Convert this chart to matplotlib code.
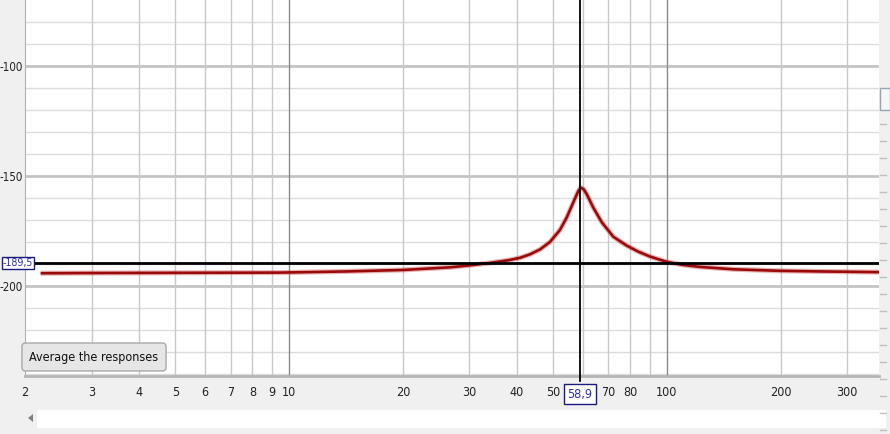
#!/usr/bin/env python

import matplotlib
matplotlib.use("Agg")
import matplotlib.pyplot as plt
from matplotlib.patches import Rectangle, Polygon

# group delay trace (Hz, ms)
freq_hz = [2.2, 3, 5, 9.5, 14, 20, 26.7, 30.1, 34, 38, 40.8, 43.4, 46.1,
           49.0, 52.1, 54.3, 56.5, 58.2, 59.1, 60.2, 61.3, 63.8, 67.2, 72.1,
           78.2, 84.0, 90.2, 99.8, 110, 122, 150, 200, 260, 364]
delay = [-194.2, -194.1, -194.0, -193.9, -193.4, -192.7, -191.5, -190.6,
         -189.5, -188.3, -187.2, -185.6, -183.4, -180.0, -174.5, -168.8,
         -162.0, -157.0, -155.3, -156.0, -158.2, -164.3, -171.0, -177.6,
         -181.6, -184.4, -186.6, -189.0, -190.4, -191.3, -192.4, -193.1,
         -193.4, -193.7]

cursor_x = 58.9
cursor_y = -189.5

x_ticks = [2, 3, 4, 5, 6, 7, 8, 9, 10, 20, 30, 40, 50, 70, 80, 100, 200, 300]
x_minor_grid = [3, 4, 5, 6, 7, 8, 9, 20, 30, 40, 50, 60, 70, 80, 90, 200, 300]
x_major_grid = [10, 100]
y_ticks = [-100, -150, -200]
y_minor_grid = list(range(-240, -70, 10))

W, H = 890, 434
plt.rcParams["font.family"] = ["DejaVu Sans"]
plt.rcParams["font.stretch"] = "condensed"

fig = plt.figure(figsize=(W / 100, H / 100), dpi=100, facecolor="#f0f0f0")
ax = fig.add_axes([25 / W, 58 / H, 854 / W, 376 / H])
ax.set_facecolor("white")
ax.set_xscale("log")
ax.set_xlim(2, 364)
ax.set_ylim(-240.9, -70)

# grid
for v in y_minor_grid:
    if v in y_ticks:
        continue
    ax.axhline(v, color="#dcdcdc", lw=1, zorder=1)
for v in y_ticks:
    ax.axhline(v, color="#c4c4c4", lw=2, zorder=1)
for v in x_minor_grid:
    ax.axvline(v, color="#c8c8c8", lw=1, zorder=1)
for v in x_major_grid:
    ax.axvline(v, color="#8a8a8a", lw=1, zorder=1)

# trace
ax.plot(freq_hz, delay, color="#cc5555", lw=3.6, alpha=0.45, zorder=3,
        solid_capstyle="butt", solid_joinstyle="round")
ax.plot(freq_hz, delay, color="#9b0a0a", lw=1.9, zorder=4,
        solid_capstyle="butt", solid_joinstyle="round")

# cursors
ax.axhline(cursor_y, color="black", lw=2, zorder=5)
ax.axvline(cursor_x, ymin=-0.012, ymax=1, color="black", lw=1.3, zorder=5,
           clip_on=False)

ax.set_xticks(x_ticks)
ax.set_xticklabels([str(t) for t in x_ticks])
ax.xaxis.set_minor_locator(plt.NullLocator())
ax.set_yticks(y_ticks)
ax.set_yticklabels(["-" + str(abs(t)) for t in y_ticks])
ax.tick_params(axis="both", length=0, colors="#222222")
ax.tick_params(axis="x", pad=7, labelsize=9)
ax.tick_params(axis="y", pad=1.5, labelsize=8.3)

for side in ["top", "right"]:
    ax.spines[side].set_visible(False)
ax.spines["left"].set_color("#b0b0b0")
ax.spines["bottom"].set_color("#b4b4b4")
ax.spines["bottom"].set_linewidth(2)

# cursor value boxes
ax.annotate("-189,5", xy=(0, cursor_y), xycoords=("figure pixels", "data"),
            xytext=(2, 0), textcoords="offset points", ha="left",
            va="center", fontsize=7.6, color="#2a2ab8", zorder=6,
            bbox=dict(boxstyle="square,pad=0.12", fc="white", ec="#1a1a80",
                      lw=1), annotation_clip=False)
ax.annotate("58,9", xy=(cursor_x, 0), xycoords=("data", "axes fraction"),
            xytext=(0, -13), textcoords="offset points", ha="center",
            va="center", fontsize=9, color="#2a2ab8", zorder=6,
            bbox=dict(boxstyle="square,pad=0.25", fc="white", ec="#1a1a80",
                      lw=1), annotation_clip=False)

# button
fig.text(94 / W, 1 - 357 / H, "Average the responses", ha="center",
         va="center", fontsize=9, color="#111111",
         bbox=dict(boxstyle="round,pad=0.6,rounding_size=0.3", fc="#e6e6e6",
                   ec="#a8a8a8", lw=1))

# horizontal scrollbar
fig.patches.append(Rectangle((37 / W, 1 - 428 / H), 849 / W, 18 / H,
                             transform=fig.transFigure, fc="white",
                             ec="none"))
fig.patches.append(Polygon([(28 / W, 1 - 418 / H), (33 / W, 1 - 414 / H),
                            (33 / W, 1 - 422 / H)], closed=True,
                           transform=fig.transFigure, fc="#808080",
                           ec="none"))

# right-hand slider scale
for yy in range(124, 432, 17):
    fig.lines.append(plt.Line2D([880 / W, 886 / W], [1 - yy / H] * 2,
                                transform=fig.transFigure, color="#c0c0c0",
                                lw=1))
fig.patches.append(Rectangle((880 / W, 1 - 110 / H), 10 / W, 22 / H,
                             transform=fig.transFigure, fc="#f6f6f6",
                             ec="#9aa4b0", lw=1))

fig.savefig("out.png", dpi=100, facecolor=fig.get_facecolor())
